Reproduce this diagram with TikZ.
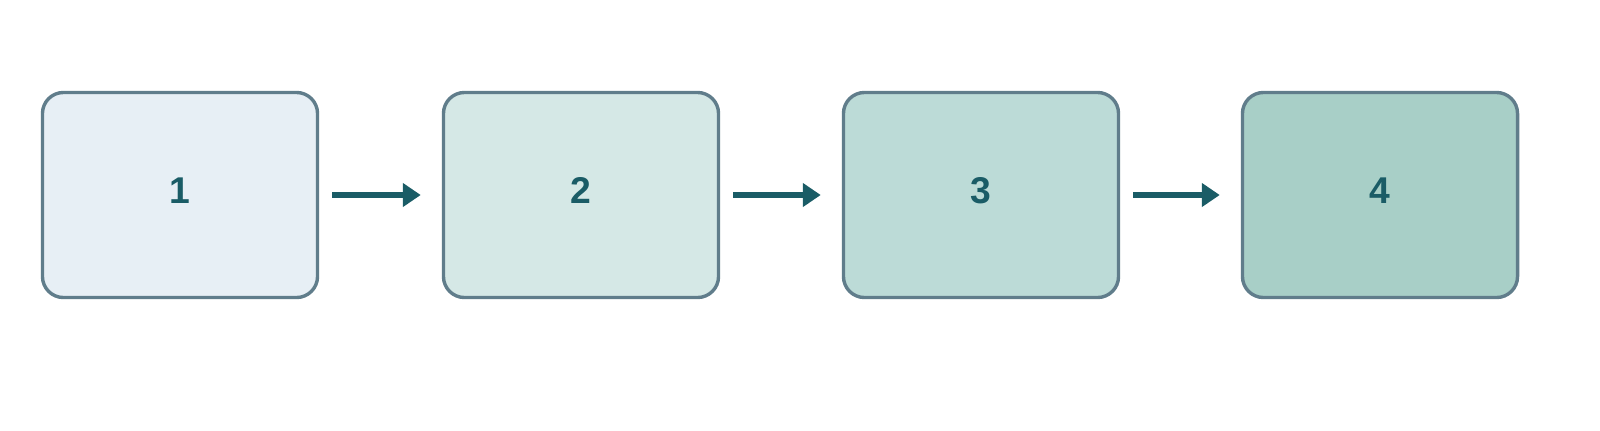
\documentclass[tikz,border=0pt]{standalone}
\usepackage{fontspec}
\setmainfont{Liberation Sans}
\usetikzlibrary{arrows.meta}
\definecolor{edgegray}{HTML}{607D8B}
\definecolor{tealdark}{HTML}{1A5C66}
\definecolor{fillA}{HTML}{E7EFF5}
\definecolor{fillB}{HTML}{D5E8E6}
\definecolor{fillC}{HTML}{BCDBD7}
\definecolor{fillD}{HTML}{A8CFC7}

\begin{document}
\begin{tikzpicture}[x=0.025cm, y=-0.025cm,
    stage/.style = {draw=edgegray, line width=0.085cm, rounded corners=0.525cm,
        minimum width=6.875cm, minimum height=5.125cm, text=tealdark,
        text depth=0.22cm,
        font=\fontsize{26.5}{30}\selectfont\bfseries},
    ar/.style={line width=0.15cm, draw=tealdark,
        -{Triangle[length=0.45cm, width=0.575cm]},
        shorten <=0.325cm, shorten >=0.525cm}]
        \useasboundingbox (0,0) rectangle (1600,430);

        \node[stage, fill=fillA] (s1) at (180,195) {1};
        \node[stage, fill=fillB] (s2) at (581,195) {2};
        \node[stage, fill=fillC] (s3) at (981,195) {3};
        \node[stage, fill=fillD] (s4) at (1380,195) {4};

        \draw[ar] (s1) -- (s2);
        \draw[ar] (s2) -- (s3);
        \draw[ar] (s3) -- (s4);
    \end{tikzpicture}
\end{document}
